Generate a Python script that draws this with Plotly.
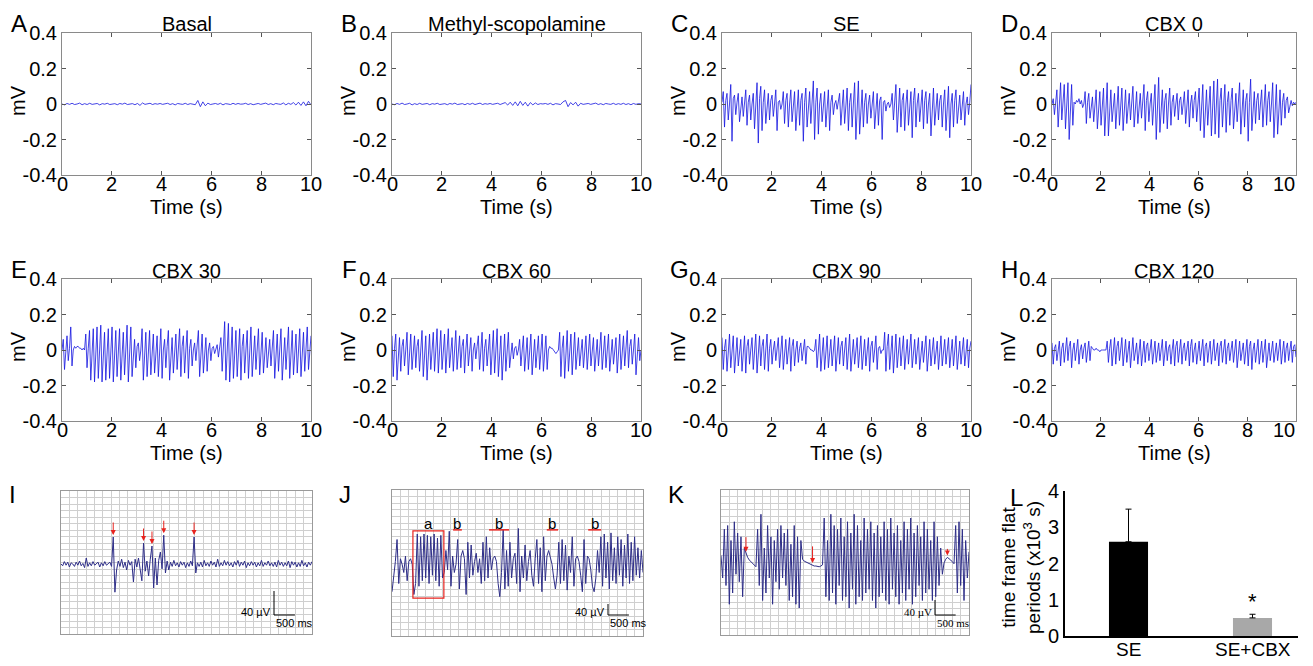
import plotly.graph_objects as go

# ---------------- data ----------------
eeg_letters = ["A", "B", "C", "D", "E", "F", "G", "H"]
eeg_titles = ["Basal", "Methyl-scopolamine", "SE", "CBX 0", "CBX 30", "CBX 60", "CBX 90", "CBX 120"]
eeg_duration_s = 10
eeg_xticks = [0, 2, 4, 6, 8, 10]
eeg_yticks = [-0.4, -0.2, 0, 0.2, 0.4]
eeg_yticktext = ["-0.4", "-0.2", "0", "0.2", "0.4"]

# traces in microvolts
basal_uV = [0, -5, 3, -2, 4, -3, 0, 5, -4, 2,
            -3, 4, -2, 0, 3, -5, 2, -1, 4, -3,
            0, 2, -4, 3, -1, 5, -3, 0, 2, -4,
            3, -8, 6, -2, 0, 4, -3, 2, -1, 3,
            -2, 0, 4, -3, 2, -5, 3, 0, -2, 4,
            -3, 2, 0, -4, 20, -15, 12, -10, 5, -3,
            0, 3, -2, 4, -5, 2, 0, -3, 4, -2,
            3, -1, 0, 4, -3, 2, -4, 0, 3, -2,
            0, 5, -3, 2, -4, 3, 0, -2, 6, -5,
            4, -2, 8, -6, 10, -8, 12, -10, 15, -5]
mscop_uV = [0, -4, 3, -2, 5, -3, 0, 4, -5, 2,
            -3, 4, -2, 0, 3, -4, 2, -1, 4, -3,
            0, 2, -4, 3, -1, 5, -3, 0, 2, -4,
            3, -2, 4, -3, 0, 5, -3, 2, -1, 3,
            -2, 0, 4, -3, 2, 8, -6, 10, -8, 12,
            -10, 15, -8, 10, -12, 8, -5, 6, -3, 2,
            0, 3, -2, 4, -5, 2, 0, -3, 12, 20,
            -15, 8, -5, 10, -12, 4, -2, 0, 3, -2,
            0, 5, -3, 2, -4, 3, 0, -2, 4, -3,
            2, -2, 4, -3, 2, -4, 3, -2, 2, 0]
se_uV = [10, 70, -130, 20, 60, -90, 0, 110, -210, 30, 50, -60, 10, 60, -100, 0, 40, -70, 20, 80,
         -120, 10, 50, -90, 0, 60, -140, 20, 120, -220, 30, 100, -150, 10, 80, -110, 0, 60, -90, 20,
         50, -70, 0, 80, -150, 10, 20, -30, 0, 70, -110, 20, 60, -130, 0, 80, -100, 10, 70, -150,
         0, 80, -120, 20, 60, -210, 10, 90, -130, 0, 70, -110, 20, 130, -200, 10, 90, -170, 0, 60,
         -100, 20, 70, -130, 0, 80, -150, 10, 50, -60, 0, 20, -30, 10, 60, -120, 20, 80, -110, 0,
         90, -150, 10, 60, -130, 0, 120, -200, 20, 130, -170, 0, 80, -130, 10, 60, -110, 0, 50, -80,
         20, 70, -140, 0, 60, -120, 20, 40, -200, 10, 20, -40, 0, 10, -20, 0, 60, -90, 20, 110,
         -160, 0, 90, -130, 20, 60, -150, 0, 80, -120, 10, 70, -190, 20, 90, -130, 0, 60, -100, 10,
         80, -140, 20, 70, -110, 0, 60, -180, 10, 90, -120, 0, 60, -90, 20, 50, -130, 0, 80, -150,
         10, 100, -190, 0, 60, -130, 20, 80, -110, 0, 50, -90, 10, 70, -120, 0, 40, -60, 10, 110]
cbx0_uV = [0, 30, -60, 10, 80, -130, 20, 120, -90, 0, 110, -140, 10, 120, -200, 0, 110, -120, 10, 0,
           20, 10, 30, 0, 20, -20, 0, 70, -110, 10, 60, -80, 0, 40, -100, 20, 80, -140, 0, 70,
           -120, 10, 90, -180, 20, 120, -180, 0, 80, -100, 10, 60, -140, 0, 100, -120, 20, 90, -150, 0,
           80, -110, 10, 60, -90, 20, 100, -130, 0, 70, -110, 10, 60, -80, 0, 110, -150, 20, 70, -100,
           0, 60, -120, 20, 110, -200, 10, 150, -160, 0, 80, -110, 20, 60, -140, 0, 90, -120, 10, 50,
           -70, 0, 60, -90, 20, 40, -60, 0, 70, -110, 10, 80, -130, 0, 50, -80, 20, 70, -100, 0,
           90, -150, 10, 110, -190, 0, 80, -120, 20, 100, -180, 10, 130, -170, 0, 140, -190, 20, 90, -130,
           0, 110, -160, 10, 70, -120, 20, 90, -140, 0, 60, -100, 10, 120, -170, 0, 80, -130, 20, 60,
           -210, 10, 140, -150, 0, 70, -110, 20, 60, -90, 0, 80, -130, 10, 110, -120, 20, 70, -100, 0,
           120, -190, 10, 110, -170, 0, 80, -120, 10, 60, -80, 20, 40, -50, 0, 20, -10, 10, 0, 10]
cbx30_uV = [0, 60, -110, 20, 80, -60, 10, 130, -90, 0, 20, 10, 20, 20, 10, 10, 0, 10, 0, 90,
            -100, 10, 110, -170, 0, 120, -180, 20, 130, -160, 0, 140, -180, 10, 100, -170, 20, 120, -160, 0,
            130, -180, 10, 110, -150, 0, 120, -170, 20, 100, -140, 0, 140, -180, 10, 130, -150, 0, 60, -100,
            20, 40, -60, 0, 120, -170, 10, 100, -150, 0, 110, -140, 20, 90, -130, 0, 80, -150, 10, 120,
            -160, 0, 60, -100, 20, 110, -170, 0, 70, -130, 10, 90, -110, 0, 120, -150, 20, 80, -130, 0,
            110, -160, 10, 60, -90, 0, 40, -60, 20, 110, -150, 0, 90, -130, 10, 70, -120, 0, 40, -60,
            10, 20, -20, 0, 30, -40, 10, 70, -120, 0, 160, -170, 20, 150, -180, 0, 130, -160, 10, 110,
            -150, 0, 120, -170, 20, 90, -130, 0, 110, -160, 10, 130, -150, 0, 80, -110, 20, 120, -140, 0,
            100, -130, 10, 70, -100, 0, 60, -90, 20, 110, -160, 0, 90, -120, 10, 120, -170, 0, 70, -110,
            20, 130, -160, 0, 110, -140, 10, 90, -130, 0, 120, -150, 20, 100, -120, 0, 130, -110, 10, 80]
cbx60_uV = [80, -150, 10, 90, -170, 0, 70, -120, 20, 60, -90, 0, 100, -140, 10, 90, -110, 0, 80, -100,
            20, 60, -120, 0, 110, -150, 10, 80, -170, 0, 90, -110, 20, 100, -120, 0, 120, -130, 10, 110,
            -110, 0, 90, -130, 20, 120, -100, 0, 70, -120, 10, 110, -110, 0, 80, -100, 20, 60, -130, 0,
            90, -90, 10, 70, -120, 0, 40, -50, 20, 80, -110, 0, 100, -120, 10, 60, -90, 0, 90, -140,
            20, 110, -130, 0, 120, -150, 10, 80, -170, 0, 90, -120, 20, 100, -100, 0, 40, -50, 10, 20,
            -30, 0, 60, -90, 20, 80, -120, 0, 70, -110, 10, 90, -140, 0, 60, -100, 20, 80, -110, 0,
            90, -120, 10, 80, -110, 0, 20, 10, 10, 0, -10, -20, -10, 0, 100, -150, 10, 80, -160, 0,
            110, -120, 20, 90, -140, 0, 100, -110, 10, 70, -90, 0, 60, -100, 20, 80, -110, 0, 90, -90,
            10, 70, -120, 0, 60, -90, 20, 100, -110, 0, 80, -100, 10, 90, -120, 0, 60, -80, 20, 70,
            -130, 0, 90, -110, 10, 80, -90, 0, 110, -100, 20, 60, -80, 0, 90, -140, 10, 70, -60, 0]
cbx90_uV = [70, -110, 10, 60, -120, 0, 90, -100, 20, 80, -130, 0, 70, -90, 10, 60, -120, 0, 80, -130,
            20, 60, -80, 0, 70, -110, 10, 90, -130, 0, 80, -90, 20, 60, -110, 0, 90, -120, 10, 60,
            -80, 0, 50, -60, 20, 70, -100, 0, 80, -110, 10, 60, -80, 0, 70, -120, 20, 60, -90, 0,
            50, -70, 10, 40, -60, 0, 60, -80, 20, 20, 10, 0, 0, -10, 0, 60, -100, 10, 90, -120,
            0, 70, -110, 20, 80, -100, 0, 60, -90, 10, 80, -120, 0, 70, -80, 20, 50, -90, 0, 70,
            -110, 10, 90, -120, 0, 60, -80, 20, 70, -100, 0, 80, -110, 10, 60, -90, 0, 70, -120, 20,
            50, -70, 0, 80, -110, 10, 20, -20, 0, 0, 100, -120, 20, 90, -110, 0, 80, -130, 10, 90,
            -100, 0, 70, -90, 20, 80, -110, 0, 60, -80, 10, 90, -100, 0, 60, -80, 20, 70, -110, 0,
            50, -70, 10, 80, -120, 0, 60, -90, 20, 70, -80, 0, 50, -110, 10, 80, -90, 0, 60, -80,
            20, 70, -100, 0, 60, -90, 10, 80, -110, 0, 50, -80, 20, 70, -90, 0, 60, -100, 10, 50]
cbx120_uV = [40, -80, 10, 30, -60, 0, 50, -90, 10, 40, -70, 0, 70, -60, 20, 50, -100, 0, 40, -60,
             10, 60, -80, 0, 30, -50, 10, 40, -70, 0, 50, -60, 20, 10, 0, 0, 10, 0, 0, -10,
             0, 0, 0, 0, 0, 50, -70, 10, 60, -90, 0, 70, -80, 20, 50, -60, 0, 70, -90, 10,
             60, -70, 0, 50, -100, 20, 70, -60, 0, 40, -80, 10, 60, -90, 0, 50, -70, 20, 40, -60,
             0, 60, -80, 10, 50, -70, 0, 40, -60, 20, 60, -90, 0, 50, -60, 10, 30, -80, 0, 60,
             -90, 20, 50, -70, 0, 60, -80, 10, 40, -60, 0, 50, -90, 20, 60, -70, 0, 40, -80, 10,
             50, -60, 0, 60, -90, 20, 40, -70, 0, 50, -80, 10, 60, -60, 0, 40, -90, 20, 50, -70,
             0, 60, -80, 10, 40, -60, 0, 50, -70, 20, 60, -100, 0, 50, -60, 10, 40, -80, 0, 60,
             -90, 20, 50, -110, 0, 40, -70, 10, 60, -80, 0, 50, -70, 20, 60, -100, 0, 40, -60, 10,
             50, -70, 0, 40, -60, 20, 60, -80, 0, 50, -70, 10, 40, -60, 0, 50, -70, 20, 30, -40]

# paper-trace panels I, J, K (6 s windows, microvolts)
paper_duration_s = 6
scale_uV = 40
scale_ms = 500
I_uV = [0, -3, 4, -2, 3, -5, 2, 0, -4, 3, -2, 5, -3, 1, -6, 10, -4, 2, -3, 4, -2, 0, 3, -5, 2,
        -3, 4, -2, 0, 3, -4, 45, -47, -10, 5, -4, 8, -6, 3, -10, 6, -2, 4, -30, 8, -5, 10, -8, -28, 35,
        -12, 5, -20, 8, 30, -40, 10, -35, 6, 20, -8, 48, -15, 5, -10, 3, -4, 6, -3, 2, -5, 4, -2, 3, -6,
        2, -4, 5, -3, 45, -15, 2, -4, 3, -5, 6, -3, 2, -4, 5, -2, 3, -5, 8, -4, 2, -3, 6, -2, 4,
        -3, 2, -5, 4, -2, 6, -4, 3, -2, 5, -6, 2, -3, 4, -2, 3, -5, 2, -3, 6, -4, 2, -2, 5, -3,
        2, -4, 3, -5, 6, -2, 3, -4, 2, -3, 5, -6, 4, -2, 3, -5, 2, -4, 6, -3, 2, -5, 3, -2, 4]
I_arrow_idx = [31, 49, 54, 61, 79]
J_uV = [-90, -40, 20, 100, -60, 30, 10, -20, 40, -50, 20, 30, 10, -100, -60, 120, -70, 110, -50, 120, -40, 115, -60, 110, -30,
        120, -50, 105, -70, 115, -40, -20, 60, -10, 130, -70, 40, -20, 10, 100, -80, 40, 60, 30, -100, 90, -40, 80, -30, 20,
        50, -20, 30, -60, 90, -50, 110, -40, 70, -10, 30, 40, 20, -60, -108, -20, 135, -80, 60, -70, 90, -40, 30, 50, -60,
        140, -90, 40, -40, 80, -50, 20, 60, -30, -70, 30, 100, -60, 70, -90, 110, -50, 40, 60, 30, 10, -40, -80, -30, 90,
        -60, 100, -50, 80, -84, 40, -20, 110, -70, 30, 40, 20, -30, -90, 100, -60, 40, 30, -10, -70, -90, -40, 60, -20, 110,
        -70, 120, -40, 90, -80, 124, -50, 70, -60, 110, -30, 100, -70, 80, -40, 120, -60, 90, -50, 110, -30, 70, -40, 60, -20]
J_a_window_s = (0.50, 1.24)
J_b_windows_s = [(1.46, 1.67), (2.32, 2.80), (3.70, 3.97), (4.69, 5.00)]
K_uV = [20, -40, 90, -60, 100, -110, 60, -80, 110, -30, 80, -50,
        70, -90, 40,
        25, 15, 8, 3, 0, -5, -10,
        90, -60, 130, -100, 40, -80, 100, -40, 70, -110, 60, -50, 90, -70, 100, -40, 80, -60, 90, -100,
        50, -90, 100, -110, 70, -120, 60,
        10, 5, 3, 0, -3, -5, -5, -8, -8, -10, -10, -8, -5,
        120, -90, 60, -100, 130, -80, 100, -110, 90, -60,
        120, -100, 70, -90, 110, -120, 80, -70, 130, -110,
        100, -90, 60, -100, 120, -80, 90, -70, 110, -100,
        80, -120, 100, -90, 70, -80, 110, -100, 90, -110,
        120, -70, 80, -90, 100, -110, 60, -80, 110, -100,
        90, -70, 120, -110, 80, -90, 100, -60, 70, -100,
        110, -80, 90, -70, 60, -100, 110, -90, 70, -60,
        40, -30,
        0, 10, 15, 12, 8, 3, -2,
        100, -80, 110, -60, 90, -100, 60, -40, 30]
K_arrow_idx = [15, 55, 136]

# bar chart L
bar_groups = ["SE", "SE+CBX"]
bar_means = [2.6, 0.5]
bar_err_up = [0.9, 0.1]
bar_colors = ["#000000", "#a8a8a8"]
bar_yticks = [0, 1, 2, 3, 4]

# ---------------- layout helpers ----------------
# The page body keeps the browser's default 8 px margin, so the figure is
# drawn 8 px in from the top-left corner; coordinates below are page pixels.
# The figure is sized so that the page never overflows the window.
OFF = 8
RIGHT = 1298
W, H = RIGHT - OFF, 666 - 2 * OFF
FONT = "Liberation Sans, Arial, sans-serif"


def fx(x):
    return (x - OFF) / W


def fy(y):
    return 1 - (y - OFF) / H


def names(n):
    s = "" if n == 1 else str(n)
    return "xaxis" + s, "x" + s, "yaxis" + s, "y" + s


fig = go.Figure()
lay = dict(template="none", width=W, height=H, margin=dict(l=0, r=0, t=0, b=0, pad=0),
           paper_bgcolor="white", plot_bgcolor="white", showlegend=False,
           font=dict(family=FONT, color="black"))
ann = []
shp = []


def text(x, y, s, size, angle=0, xanchor="center", yanchor="middle", family=FONT, color="black"):
    ann.append(dict(x=fx(x), y=fy(y), xref="paper", yref="paper", text=s, showarrow=False,
                    textangle=angle, xanchor=xanchor, yanchor=yanchor,
                    font=dict(size=size, family=family, color=color)))


# ---------------- EEG panels A-H ----------------
cols = [(62, 311), (392, 641), (722, 971), (1052, 1296)]
rows = [(33, 175), (279, 421)]
eeg_data = [basal_uV, mscop_uV, se_uV, cbx0_uV, cbx30_uV, cbx60_uV, cbx90_uV, cbx120_uV]

for k, vals in enumerate(eeg_data):
    r, c = divmod(k, 4)
    x0, x1 = cols[c]
    y0, y1 = rows[r]
    xa, xr, ya, yr = names(k + 1)
    t = [i * eeg_duration_s / (len(vals) - 1) for i in range(len(vals))]
    fig.add_trace(go.Scatter(x=t, y=[v / 1000 for v in vals], mode="lines",
                             line=dict(color="#1414e0", width=0.8),
                             xaxis=xr, yaxis=yr, hoverinfo="skip"))
    common = dict(ticks="inside", ticklen=4, tickcolor="#555", showline=True, mirror="ticks",
                  linecolor="#8a8a8a", linewidth=1, showgrid=False, zeroline=False,
                  automargin=False,
                  tickfont=dict(size=20, family=FONT, color="black"), fixedrange=True)
    lay[xa] = dict(domain=[fx(x0), fx(x1)], range=[0, eeg_duration_s], anchor=yr,
                   tickmode="array", tickvals=eeg_xticks, showticklabels=False, **common)
    lay[ya] = dict(domain=[fy(y1), fy(y0)], range=[-0.4, 0.4], anchor=xr,
                   tickmode="array", tickvals=eeg_yticks, ticktext=eeg_yticktext, **common)
    for v in eeg_xticks:
        # keep the last label of the right-hand column inside the page
        last_right = (c == 3 and v == eeg_xticks[-1])
        ann.append(dict(x=v, y=fy(y1 + 9), xref=xr, yref="paper", text=str(v), showarrow=False,
                        xanchor="right" if last_right else "center", yanchor="middle",
                        xshift=RIGHT - 1 - x1 if last_right else 0,
                        font=dict(size=20, family=FONT, color="black")))
    text((x0 + x1) / 2, y0 - 8.5, eeg_titles[k], 20)
    text((x0 + x1) / 2, y1 + 32, "Time (s)", 20)
    text(x0 - 44, (y0 + y1) / 2 - 3, "mV", 20, angle=-90)
    text(x0 - 43, y0 - 10, eeg_letters[k], 24)

# ---------------- paper traces I, J, K ----------------
paper = [
    dict(letter="I", lpos=(12, 494), vals=I_uV, box=(61, 312, 491, 634), base=564, ppu=0.6,
         arrows=I_arrow_idx, alen=[14, 14, 14, 14, 14], sbar=(274, 615), serif=False),
    dict(letter="J", lpos=(345, 494), vals=J_uV, box=(392, 643, 490, 636), base=567, ppu=0.275,
         arrows=[], alen=[], sbar=(608, 615), serif=False),
    dict(letter="K", lpos=(676, 494), vals=K_uV, box=(721, 969, 490, 635), base=563, ppu=0.375,
         arrows=K_arrow_idx, alen=[16, 18, 8], sbar=(935, 615), serif=True),
]
n_rows_grid = 22
for j, p in enumerate(paper):
    n = 9 + j
    xa, xr, ya, yr = names(n)
    x0, x1, y0, y1 = p["box"]
    lo = -(y1 - p["base"]) / p["ppu"]
    hi = (p["base"] - y0) / p["ppu"]
    vals = p["vals"]
    t = [i * paper_duration_s / (len(vals) - 1) for i in range(len(vals))]
    fig.add_trace(go.Scatter(x=t, y=vals, mode="lines", line=dict(color="#2e2e88", width=1),
                             xaxis=xr, yaxis=yr, hoverinfo="skip"))
    g = dict(showline=True, mirror=True, linecolor="#9a9a9a", linewidth=1.2, showgrid=True,
             gridcolor="#cfcfcf", gridwidth=1, zeroline=False, showticklabels=False, ticks="",
             automargin=False, fixedrange=True)
    lay[xa] = dict(domain=[fx(x0), fx(x1)], range=[0, paper_duration_s], anchor=yr,
                   tick0=0, dtick=0.2, **g)
    lay[ya] = dict(domain=[fy(y1), fy(y0)], range=[lo, hi], anchor=xr,
                   tick0=lo, dtick=(hi - lo) / n_rows_grid, **g)
    text(p["lpos"][0], p["lpos"][1], p["letter"], 24)
    # scale bar
    xs = (p["sbar"][0] - x0) / (x1 - x0) * paper_duration_s
    ys = (p["base"] - p["sbar"][1]) / p["ppu"]
    shp.append(dict(type="line", xref=xr, yref=yr, x0=xs, x1=xs, y0=ys, y1=ys + scale_uV,
                    line=dict(color="black", width=1)))
    shp.append(dict(type="line", xref=xr, yref=yr, x0=xs, x1=xs + scale_ms / 1000, y0=ys, y1=ys,
                    line=dict(color="black", width=1)))
    fam = "Liberation Serif, Times New Roman, serif" if p["serif"] else FONT
    ann.append(dict(x=xs, y=ys, xref=xr, yref=yr, text=f"{scale_uV} \u00b5V", showarrow=False,
                    xanchor="right", yanchor="middle", xshift=-1, yshift=3,
                    font=dict(size=11, family=fam, color="black")))
    ann.append(dict(x=xs, y=ys, xref=xr, yref=yr, text=f"{scale_ms} ms", showarrow=False,
                    xanchor="left", yanchor="middle", xshift=0, yshift=-8,
                    font=dict(size=11, family=fam, color="black")))
    # red arrows
    for idx, L in zip(p["arrows"], p["alen"]):
        ann.append(dict(x=t[idx], y=vals[idx], xref=xr, yref=yr, ax=0, ay=-(L + 2), text="",
                        showarrow=True, arrowhead=2, arrowsize=1, arrowwidth=1,
                        arrowcolor="#e8231e", standoff=2))
    if p["letter"] == "J":
        a0, a1 = J_a_window_s
        shp.append(dict(type="rect", xref=xr, yref=yr, x0=a0, x1=a1, y0=-113, y1=131,
                        line=dict(color="#e8231e", width=1.2)))
        ann.append(dict(x=(a0 + a1) / 2, y=160, xref=xr, yref=yr, text="a", showarrow=False,
                        font=dict(size=15, family="Liberation Sans Narrow, " + FONT, color="black")))
        for b0, b1 in J_b_windows_s:
            shp.append(dict(type="line", xref=xr, yref=yr, x0=b0, x1=b1, y0=135, y1=135,
                            line=dict(color="#e8231e", width=1.5)))
            ann.append(dict(x=(b0 + b1) / 2, y=160, xref=xr, yref=yr, text="b", showarrow=False,
                            font=dict(size=15, family="Liberation Sans Narrow, " + FONT, color="black")))

# ---------------- bar chart L ----------------
xa, xr, ya, yr = names(12)
L_left, L_first_center, L_step = 1065, 1128.5, 124.0
fig.add_trace(go.Bar(x=bar_groups, y=bar_means, marker=dict(color=bar_colors, line=dict(width=0)),
                     width=0.315, xaxis=xr, yaxis=yr, hoverinfo="skip",
                     error_y=dict(type="data", symmetric=False, array=bar_err_up,
                                  arrayminus=[0] * len(bar_err_up), color="black",
                                  thickness=1, width=3)))
lay[xa] = dict(domain=[fx(L_left), 1.0],
               range=[(L_left - L_first_center) / L_step, (RIGHT - L_first_center) / L_step],
               anchor=yr, type="category",
               showline=True, linecolor="black", linewidth=2, ticks="", showgrid=False,
               zeroline=False, automargin=False, showticklabels=False, fixedrange=True)
lay[ya] = dict(domain=[fy(636), fy(491)], range=[0, 4], anchor=xr, tickvals=bar_yticks,
               showline=True, linecolor="black", linewidth=2, ticks="", showgrid=False,
               zeroline=False, automargin=False,
               tickfont=dict(size=20, family=FONT, color="black"), fixedrange=True)
for gname in bar_groups:
    ann.append(dict(x=gname, y=fy(649), xref=xr, yref="paper", text=gname, showarrow=False,
                    xanchor="center", yanchor="middle",
                    font=dict(size=19, family=FONT, color="black")))
ann.append(dict(x=bar_groups[1], y=bar_means[1] + bar_err_up[1], xref=xr, yref=yr, text="*",
                showarrow=False, yanchor="bottom", yshift=-2,
                font=dict(size=22, family=FONT, color="black")))
text(1021, 568, "time frame flat<br>periods (x10<sup>3</sup> s)", 19, angle=-90)
text(1016, 497, "L", 24)

lay["annotations"] = ann
lay["shapes"] = shp
fig.update_layout(**lay)
fig.write_html("out.html", config={"displayModeBar": False})
